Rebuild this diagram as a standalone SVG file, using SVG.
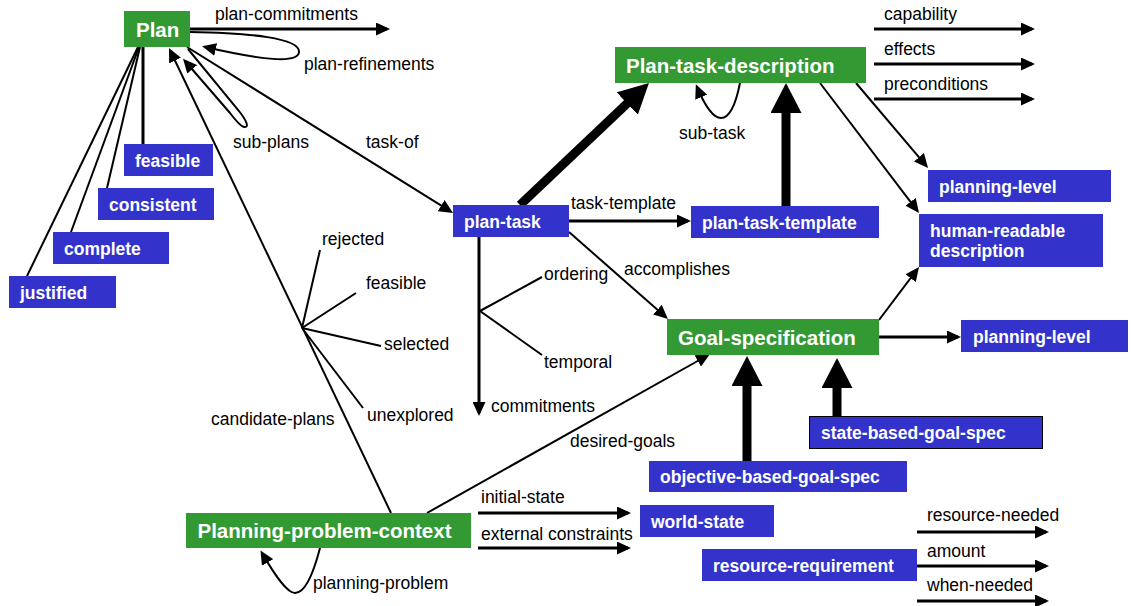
<svg xmlns="http://www.w3.org/2000/svg" width="1131" height="606" viewBox="0 0 1131 606">
  <style>
    .green { fill: #339933; }
    .blue { fill: #3333CC; }
    .boxed { stroke: #000; stroke-width: 1; }
    .big { font-family: "Liberation Sans", Arial, Helvetica, sans-serif; font-size: 20.5px; font-weight: bold; fill: #fff; }
    .name { font-family: "Liberation Sans", Arial, Helvetica, sans-serif; font-size: 17.5px; font-weight: bold; fill: #fff; }
    .lbl { font-family: "Liberation Sans", Arial, Helvetica, sans-serif; font-size: 17.5px; fill: #000; }
    .ln { fill: none; stroke: #000; stroke-width: 2; }
    .ln3 { fill: none; stroke: #000; stroke-width: 3; }
    .isa { fill: none; stroke: #000; stroke-width: 9; }
  </style>
  <defs>
    <marker id="arrow" markerUnits="userSpaceOnUse" markerWidth="14" markerHeight="13" refX="11" refY="6.5" orient="auto">
      <path d="M0,0 L14,6.5 L0,13 z" fill="#000"/>
    </marker>
    <marker id="arrow-big" markerUnits="userSpaceOnUse" markerWidth="30" markerHeight="31" refX="5" refY="15.5" orient="auto">
      <path d="M0,0 L30,15.5 L0,31 z" fill="#000"/>
    </marker>
  </defs>

  <!-- connectors -->
  <g id="connectors">
    <!-- Plan relations -->
    <line class="ln3" x1="190" y1="29" x2="387" y2="29" marker-end="url(#arrow)"/>
    <path class="ln" d="M190,32 C250,33 300,38 299,52 C298,64 262,60 205,47" marker-end="url(#arrow)"/>
    <path class="ln" d="M188,49 L239,111 C246,120 250,128 244,127 C240,126 236,121 230,113 L185,61" marker-end="url(#arrow)"/>
    <line class="ln" x1="187" y1="47" x2="450.5" y2="211.4" marker-end="url(#arrow)"/>
    <line class="ln" x1="391" y1="513" x2="170.3" y2="50.7" marker-end="url(#arrow)"/>
    <line class="ln3" x1="143" y1="47" x2="143" y2="144"/>
    <line class="ln" x1="140" y1="47" x2="107" y2="188"/>
    <line class="ln" x1="139" y1="47" x2="71" y2="232"/>
    <line class="ln" x1="138" y1="47" x2="27" y2="276"/>

    <!-- candidate-plans states -->
    <line class="ln" x1="302" y1="328" x2="320" y2="250"/>
    <line class="ln" x1="302" y1="328" x2="356" y2="293"/>
    <line class="ln" x1="302" y1="328" x2="381" y2="346"/>
    <line class="ln" x1="302" y1="328" x2="363" y2="408"/>

    <!-- plan-task relations -->
    <line class="isa" x1="520" y1="205" x2="630.8" y2="100.1" marker-end="url(#arrow-big)"/>
    <line class="ln3" x1="569" y1="221" x2="688" y2="221" marker-end="url(#arrow)"/>
    <line class="ln3" x1="479" y1="237" x2="479" y2="413" marker-end="url(#arrow)"/>
    <line class="ln" x1="480" y1="311" x2="542" y2="277"/>
    <line class="ln" x1="480" y1="311" x2="542" y2="355"/>
    <line class="ln" x1="569" y1="232" x2="665.7" y2="317" marker-end="url(#arrow)"/>

    <!-- Plan-task-description relations -->
    <line class="isa" x1="786" y1="206" x2="786" y2="108" marker-end="url(#arrow-big)"/>
    <path class="ln" d="M740,83 C735,108 729,118 721,118 C713,118 705,106 697,87" marker-end="url(#arrow)"/>
    <line class="ln3" x1="874" y1="29" x2="1032" y2="29" marker-end="url(#arrow)"/>
    <line class="ln3" x1="874" y1="64" x2="1032" y2="64" marker-end="url(#arrow)"/>
    <line class="ln3" x1="874" y1="99" x2="1032" y2="99" marker-end="url(#arrow)"/>
    <line class="ln" x1="856" y1="83" x2="926.1" y2="165.7" marker-end="url(#arrow)"/>
    <line class="ln" x1="820" y1="83" x2="917.2" y2="210.6" marker-end="url(#arrow)"/>

    <!-- Goal-specification relations -->
    <line class="ln" x1="879" y1="320" x2="917.2" y2="269.4" marker-end="url(#arrow)"/>
    <line class="ln3" x1="879" y1="337" x2="958" y2="337" marker-end="url(#arrow)"/>
    <line class="isa" x1="747" y1="461" x2="747" y2="381" marker-end="url(#arrow-big)"/>
    <line class="isa" x1="837" y1="416" x2="837" y2="383" marker-end="url(#arrow-big)"/>

    <!-- Planning-problem-context relations -->
    <line class="ln" x1="427" y1="513" x2="707.4" y2="355.5" marker-end="url(#arrow)"/>
    <line class="ln3" x1="478" y1="513" x2="628" y2="513" marker-end="url(#arrow)"/>
    <line class="ln3" x1="478" y1="548" x2="628" y2="548" marker-end="url(#arrow)"/>
    <path class="ln" d="M320,548 C313,575 305,593 295,593 C287,593 276,577 262,553" marker-end="url(#arrow)"/>

    <!-- resource-requirement relations -->
    <line class="ln3" x1="917" y1="532" x2="1046" y2="532" marker-end="url(#arrow)"/>
    <line class="ln3" x1="917" y1="566" x2="1046" y2="566" marker-end="url(#arrow)"/>
    <line class="ln3" x1="917" y1="601" x2="1046" y2="601" marker-end="url(#arrow)"/>

    <!-- connector labels -->
    <text class="lbl" x="215" y="20">plan-commitments</text>
    <text class="lbl" x="304" y="70">plan-refinements</text>
    <text class="lbl" x="233" y="148">sub-plans</text>
    <text class="lbl" x="366" y="148">task-of</text>
    <text class="lbl" x="211" y="425">candidate-plans</text>
    <text class="lbl" x="322" y="245">rejected</text>
    <text class="lbl" x="366" y="289">feasible</text>
    <text class="lbl" x="384" y="350">selected</text>
    <text class="lbl" x="367" y="421">unexplored</text>
    <text class="lbl" x="571" y="209">task-template</text>
    <text class="lbl" x="624" y="275">accomplishes</text>
    <text class="lbl" x="544" y="280">ordering</text>
    <text class="lbl" x="544" y="368">temporal</text>
    <text class="lbl" x="491" y="412">commitments</text>
    <text class="lbl" x="679" y="139">sub-task</text>
    <text class="lbl" x="884" y="20">capability</text>
    <text class="lbl" x="884" y="55">effects</text>
    <text class="lbl" x="884" y="90">preconditions</text>
    <text class="lbl" x="570" y="447">desired-goals</text>
    <text class="lbl" x="481" y="503">initial-state</text>
    <text class="lbl" x="481" y="540">external constraints</text>
    <text class="lbl" x="313" y="589">planning-problem</text>
    <text class="lbl" x="927" y="521">resource-needed</text>
    <text class="lbl" x="927" y="557">amount</text>
    <text class="lbl" x="927" y="591">when-needed</text>
  </g>

  <!-- nodes -->
  <g id="plan">
    <rect class="green" x="124" y="11" width="66" height="36"/>
    <text class="big" x="136" y="36.5">Plan</text>
  </g>
  <g id="plan-feasible">
    <rect class="blue" x="124" y="144" width="89" height="32"/>
    <text class="name" x="135" y="166.5">feasible</text>
  </g>
  <g id="plan-consistent">
    <rect class="blue" x="98" y="188" width="116" height="32"/>
    <text class="name" x="109" y="210.5">consistent</text>
  </g>
  <g id="plan-complete">
    <rect class="blue" x="53" y="232" width="116" height="32"/>
    <text class="name" x="64" y="254.5">complete</text>
  </g>
  <g id="plan-justified">
    <rect class="blue" x="9" y="276" width="107" height="32"/>
    <text class="name" x="20" y="298.5">justified</text>
  </g>
  <g id="plan-task">
    <rect class="blue" x="453" y="205" width="116" height="32"/>
    <text class="name" x="464" y="227.5">plan-task</text>
  </g>
  <g id="plan-task-template">
    <rect class="blue" x="691" y="206" width="188" height="32"/>
    <text class="name" x="702" y="228.5">plan-task-template</text>
  </g>
  <g id="plan-task-description">
    <rect class="green" x="615" y="47" width="251" height="36"/>
    <text class="big" x="626" y="72.5">Plan-task-description</text>
  </g>
  <g id="ptd-planning-level">
    <rect class="blue" x="928" y="170" width="183" height="32"/>
    <text class="name" x="939" y="192.5">planning-level</text>
  </g>
  <g id="human-readable-description">
    <rect class="blue" x="919" y="214" width="184" height="53"/>
    <text class="name" x="930" y="237">human-readable</text>
    <text class="name" x="930" y="257">description</text>
  </g>
  <g id="goal-specification">
    <rect class="green" x="667" y="319" width="212" height="36"/>
    <text class="big" x="678" y="344.5">Goal-specification</text>
  </g>
  <g id="goal-planning-level">
    <rect class="blue" x="961" y="320" width="167" height="32"/>
    <text class="name" x="973" y="342.5">planning-level</text>
  </g>
  <g id="state-based-goal-spec">
    <rect class="blue boxed" x="809.5" y="416.5" width="233" height="32"/>
    <text class="name" x="821" y="439">state-based-goal-spec</text>
  </g>
  <g id="objective-based-goal-spec">
    <rect class="blue" x="649" y="461" width="258" height="31"/>
    <text class="name" x="660" y="483">objective-based-goal-spec</text>
  </g>
  <g id="planning-problem-context">
    <rect class="green" x="186" y="513" width="285" height="35"/>
    <text class="big" x="197.5" y="538">Planning-problem-context</text>
  </g>
  <g id="world-state">
    <rect class="blue" x="640" y="505" width="134" height="32"/>
    <text class="name" x="651" y="527.5">world-state</text>
  </g>
  <g id="resource-requirement">
    <rect class="blue" x="702" y="549" width="215" height="32"/>
    <text class="name" x="713" y="571.5">resource-requirement</text>
  </g>
</svg>
